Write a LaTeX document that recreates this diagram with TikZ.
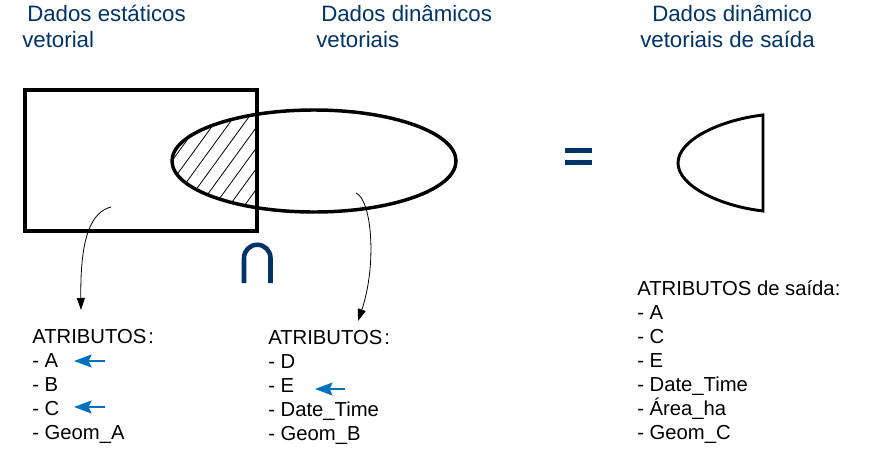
\documentclass[tikz,border=0pt]{standalone}
\usepackage{fontspec}
\setmainfont{Liberation Sans}
\usetikzlibrary{arrows.meta}
\definecolor{titleblue}{RGB}{0,51,102}
\definecolor{arrowblue}{RGB}{0,112,192}
\begin{document}
\begin{tikzpicture}[x=0.75pt,y=-0.75pt,
  title/.style={anchor=base west,inner sep=0,text=titleblue,font=\fontsize{16.7}{19}\selectfont},
  attr/.style={anchor=base west,inner sep=0,font=\fontsize{15.2}{18}\selectfont},
  thickline/.style={line width=3pt},
  hatchline/.style={line width=0.6pt},
  link/.style={line width=0.6pt,-{Triangle[length=9pt,width=6pt]}},
  pointer/.style={arrowblue,line width=2pt,-{Stealth[length=13pt,width=9.5pt,inset=2pt]}}]
\path[use as bounding box] (0,0) rectangle (870,475);

% titles
\node[title] (t1a) at (27,21) {Dados estáticos};
\node[title] (t1b) at (22,47) {vetorial};
\node[title] (t2a) at (321,21) {Dados dinâmicos};
\node[title] (t2b) at (316,47) {vetoriais};
\node[title] (t3a) at (652,21) {Dados dinâmico};
\node[title] (t3b) at (640,47) {vetoriais de saída};

% hatched intersection
\begin{scope}
  \clip (314,161) ellipse [x radius=142, y radius=51];
  \clip (25,90) rectangle (257,231);
  \foreach \k in {-2,...,11}
    \draw[hatchline] ({230.3-15*\k},225) -- ({230.3-15*\k+87.3},105);
\end{scope}

% shapes
\draw[line width=2.6pt] (314,161) ellipse [x radius=142, y radius=51];
\draw[thickline] (25,90) rectangle (257,231);

% intersection symbol
\draw[titleblue,line width=3.4pt] (244,283) -- (244,258)
  .. controls (244,250.7) and (249.9,244.75) .. (257.25,244.75)
  .. controls (264.6,244.75) and (270.5,250.7) .. (270.5,258) -- (270.5,283);

% equals sign
\fill[titleblue] (565,148) rectangle (592,153);
\fill[titleblue] (565,160) rectangle (592,165);

% output shape
\draw[line width=2.2pt,line join=miter] (763,115)
  .. controls (720,120) and (678,140) .. (678,163)
  .. controls (678,186) and (720,206) .. (763,211) -- cycle;

% attribute lists
\foreach \t [count=\i from 0] in {ATRIBUTOS\kern1.5pt:,- A,- B,- C,- Geom\_A}
  \node[attr] (s\i) at (32,{343+24*\i}) {\t};
\foreach \t [count=\i from 0] in {ATRIBUTOS\kern1.5pt:,- D,- E,- Date\_Time,- Geom\_B}
  \node[attr] (d\i) at (268,{344+24*\i}) {\t};
\foreach \t [count=\i from 0] in {ATRIBUTOS de saída:,- A,- C,- E,- Date\_Time,- Área\_ha,- Geom\_C}
  \node[attr] (o\i) at (637,{295+24*\i}) {\t};

% curved links
\coordinate (p1) at (111,207);
\coordinate (q1) at (81,310);
\draw[link] (p1) .. controls (92,212) and (80,235) .. (q1);
\coordinate (p2) at (356,193);
\coordinate (q2) at (358,321);
\draw[link] (p2) .. controls (372,200) and (377,265) .. (q2);

% blue pointers
\coordinate (ma1) at (105,361); \coordinate (ma2) at (74,361);
\coordinate (mc1) at (105,407); \coordinate (mc2) at (74,407);
\coordinate (me1) at (345,389); \coordinate (me2) at (315,389);
\draw[pointer] (ma1) -- (ma2);
\draw[pointer] (mc1) -- (mc2);
\draw[pointer] (me1) -- (me2);
\end{tikzpicture}
\end{document}
